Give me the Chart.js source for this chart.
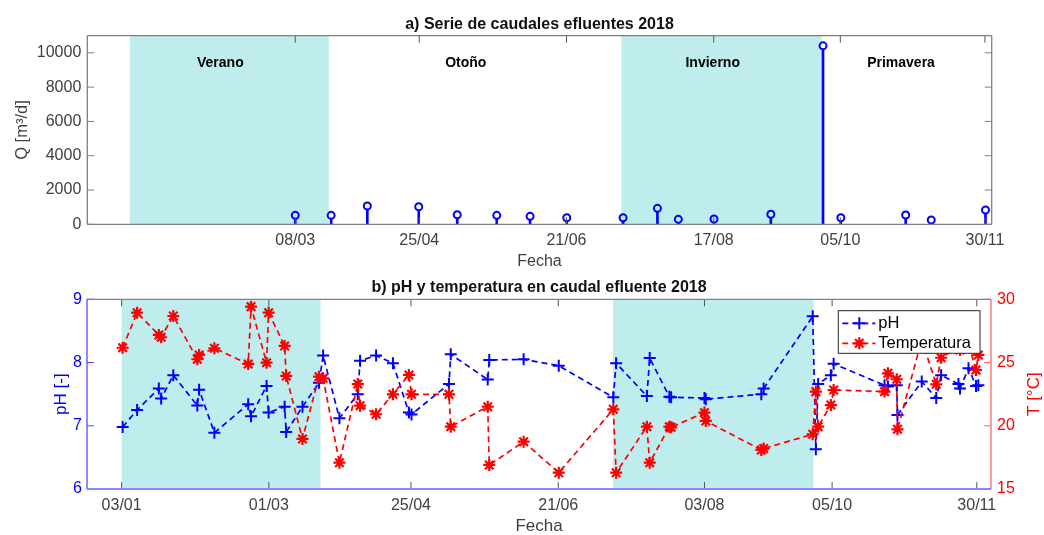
<!DOCTYPE html>
<html>
<head>
<meta charset="utf-8">
<script src="https://cdn.jsdelivr.net/npm/chart.js@4.4.0/dist/chart.umd.min.js"></script>
<style>
  body { margin: 0; background: #fff; }
  #wrap { position: relative; width: 1044px; height: 535px; }
  canvas { position: absolute; left: 0; }
  #caudal { top: 0; }
  #phTemp { top: 270px; }
</style>
</head>
<body>
<div id="wrap">
  <canvas id="caudal" width="1044" height="270"></canvas>
  <canvas id="phTemp" width="1044" height="265"></canvas>
</div>
<script>
// x values are day of year 2018

// a) effluent flow (stem plot)
var stemDays = [67.0, 80.9, 94.9, 114.8, 129.7, 145.0, 157.9, 172.1, 193.9, 207.2, 215.3, 229.1, 251.1, 271.3, 278.2, 303.3, 313.2, 334.2];
var caudal = [524, 524, 1066, 1026, 560, 524, 466, 385, 385, 932, 291, 309, 583, 10408, 385, 542, 250, 833];

// b) pH and temperature
var sampleDays = [3.4, 9.0, 17.4, 18.3, 23.0, 32.3, 33.0, 38.9, 52.0, 53.1,
  59.1, 59.9, 66.1, 66.7, 73.0, 79.4, 81.0, 87.3, 94.4, 95.3,
  101.5, 108.0, 114.2, 115.2, 129.7, 130.4, 144.7, 145.3, 158.6, 172.2,
  193.3, 194.4, 206.3, 207.4, 215.0, 215.7, 228.6, 229.1, 250.6, 251.5,
  270.5, 271.7, 272.6, 277.5, 278.6, 298.3, 299.6, 303.0, 303.3, 312.7,
  318.3, 320.2, 326.9, 327.5, 330.8, 333.7, 334.6];
var phValues = [6.98, 7.25, 7.59, 7.43, 7.80, 7.32, 7.57, 6.89, 7.34, 7.15,
  7.63, 7.21, 7.30, 6.90, 7.30, 7.68, 8.11, 7.12, 7.50, 8.03,
  8.11, 7.99, 7.21, 7.18, 7.66, 8.13, 7.73, 8.04, 8.05, 7.95,
  7.45, 7.99, 7.47, 8.07, 7.46, 7.45, 7.44, 7.42, 7.50, 7.59,
  8.73, 6.63, 7.66, 7.80, 7.98, 7.64, 7.62, 7.64, 7.17, 7.70,
  7.44, 7.80, 7.66, 7.59, 7.91, 7.63, 7.64];
var tempValues = [26.17, 28.94, 27.18, 27.0, 28.68, 25.26, 25.6, 26.13, 24.89, 29.42,
  24.99, 28.94, 26.31, 23.94, 18.96, 23.88, 23.75, 17.08, 23.30, 21.59,
  20.91, 22.49, 24.02, 22.49, 22.49, 19.93, 21.51, 16.90, 18.74, 16.29,
  21.30, 16.29, 19.93, 17.08, 19.93, 19.88, 21.04, 20.38, 18.09, 18.2,
  19.33, 22.70, 19.93, 21.64, 22.83, 22.70, 24.15, 23.68, 19.72, 26.8,
  23.28, 25.38, 26.2, 26.0, 26.5, 24.41, 25.60];

// seasons
var seasonNames = ['Verano', 'Otoño', 'Invierno', 'Primavera'];
var seasonLabelDays = [38, 133, 228.6, 301.5];
var shadedSeasons = [[3, 80], [193.2, 270.8]];

// ticks
var topTickDays = [67, 115, 172, 229, 278, 334];
var topTickLabels = ['08/03', '25/04', '21/06', '17/08', '05/10', '30/11'];
var bottomTickDays = [3, 60, 115, 172, 228.6, 278, 334];
var bottomTickLabels = ['03/01', '01/03', '25/04', '21/06', '03/08', '05/10', '30/11'];
var qTicks = [0, 2000, 4000, 6000, 8000, 10000];
var phTicks = [6, 7, 8, 9];
var tTicks = [15, 20, 25, 30];

var FONT = "'Liberation Sans', Arial, sans-serif";
var SHADE = 'rgb(191, 237, 237)';
var BLUE = 'rgb(0, 0, 255)';
var RED = 'rgb(255, 0, 0)';
var GREY = '#404040';

function inShade(d) {
  return shadedSeasons.some(function (s) { return d >= s[0] && d <= s[1]; });
}

function seg(ctx, x1, y1, x2, y2) {
  ctx.beginPath();
  ctx.moveTo(x1, y1);
  ctx.lineTo(x2, y2);
  ctx.stroke();
}

function setTicks(list) {
  return function (scale) {
    scale.ticks = list.map(function (v) { return { value: v }; });
  };
}

//Shaded seasons (+ names on the top plot)
var seasonPlugin = {
  id: 'seasons',
  beforeDatasetsDraw: function (chart, args, opts) {
    var ctx = chart.ctx, a = chart.chartArea, xs = chart.scales.x;
    ctx.save();
    ctx.fillStyle = SHADE;
    shadedSeasons.forEach(function (s) {
      var x0 = xs.getPixelForValue(s[0]), x1 = xs.getPixelForValue(s[1]);
      ctx.fillRect(x0, a.top, x1 - x0, a.bottom - a.top);
    });
    if (opts.labels) {
      ctx.fillStyle = '#000';
      ctx.font = 'bold 14px ' + FONT;
      ctx.textAlign = 'center';
      ctx.textBaseline = 'middle';
      seasonNames.forEach(function (n, i) {
        ctx.fillText(n, xs.getPixelForValue(seasonLabelDays[i]), a.top + 27.6);
      });
    }
    ctx.restore();
  }
};

//Axes box with inward ticks, matlab style
var boxPlugin = {
  id: 'box',
  afterDatasetsDraw: function (chart, args, o) {
    var ctx = chart.ctx, a = chart.chartArea, L = 7;
    var xs = chart.scales.x, yl = chart.scales.y, yr = chart.scales.y2;
    ctx.save();
    ctx.lineWidth = 1;
    ctx.strokeStyle = o.xColor;
    xs.ticks.forEach(function (t) {
      var px = xs.getPixelForValue(t.value);
      seg(ctx, px, a.bottom, px, a.bottom - L);
      seg(ctx, px, a.top, px, a.top + L);
    });
    yl.ticks.forEach(function (t) {
      var py = yl.getPixelForValue(t.value);
      ctx.strokeStyle = o.leftColor;
      seg(ctx, a.left, py, a.left + L, py);
      if (!yr) {
        ctx.strokeStyle = o.rightColor;
        seg(ctx, a.right, py, a.right - L, py);
      }
    });
    if (yr) {
      ctx.strokeStyle = o.rightColor;
      yr.ticks.forEach(function (t) {
        var py = yr.getPixelForValue(t.value);
        seg(ctx, a.right, py, a.right - L, py);
      });
    }
    ctx.lineWidth = o.width;
    ctx.strokeStyle = o.topColor; seg(ctx, a.left, a.top, a.right, a.top);
    ctx.strokeStyle = o.rightColor; seg(ctx, a.right, a.top, a.right, a.bottom);
    ctx.strokeStyle = o.leftColor; seg(ctx, a.left, a.top, a.left, a.bottom);
    ctx.lineWidth = o.bottomWidth;
    ctx.strokeStyle = o.bottomColor; seg(ctx, a.left, a.bottom, a.right, a.bottom);
    ctx.restore();
  }
};

function marker(ctx, ds, x, y) {
  var opts = { pointStyle: ds.pointStyle, radius: ds.pointRadius, borderWidth: ds.pointBorderWidth, rotation: 0 };
  if (Chart.helpers && Chart.helpers.drawPoint) {
    Chart.helpers.drawPoint(ctx, opts, x, y);
    return;
  }
  var r = ds.pointRadius;
  seg(ctx, x - r, y, x + r, y);
  seg(ctx, x, y - r, x, y + r);
  if (ds.pointStyle === 'star') {
    var d = r * Math.SQRT1_2;
    seg(ctx, x - d, y - d, x + d, y + d);
    seg(ctx, x - d, y + d, x + d, y - d);
  }
}

//Legend in a box inside the plot + right axis label
var boxLegendPlugin = {
  id: 'boxLegend',
  afterDraw: function (chart) {
    var ctx = chart.ctx, a = chart.chartArea;
    var w = 141.7, h = 42.6, x0 = a.right - 11 - w, y0 = a.top + 11.4;
    ctx.save();
    ctx.fillStyle = '#fff';
    ctx.fillRect(x0, y0, w, h);
    ctx.strokeStyle = '#262626';
    ctx.lineWidth = 1;
    ctx.strokeRect(x0, y0, w, h);
    chart.data.datasets.forEach(function (ds, i) {
      var cy = y0 + 12.6 + i * 20;
      ctx.strokeStyle = ds.borderColor;
      ctx.fillStyle = ds.borderColor;
      ctx.lineWidth = ds.borderWidth;
      ctx.setLineDash(ds.borderDash);
      seg(ctx, x0 + 4, cy, x0 + 37, cy);
      ctx.setLineDash([]);
      ctx.lineWidth = ds.pointBorderWidth;
      marker(ctx, ds, x0 + 21, cy);
      ctx.fillStyle = '#000';
      ctx.font = '16.5px ' + FONT;
      ctx.textAlign = 'left';
      ctx.textBaseline = 'middle';
      ctx.fillText(ds.label, x0 + 40, cy);
    });
    // T axis label reads bottom to top like the left one
    ctx.translate(1034, (a.top + a.bottom) / 2);
    ctx.rotate(-Math.PI / 2);
    ctx.fillStyle = RED;
    ctx.font = '17px ' + FONT;
    ctx.textAlign = 'center';
    ctx.textBaseline = 'middle';
    ctx.fillText('T [°C]', 0, 0);
    ctx.restore();
  }
};

var qPoints = stemDays.map(function (d, i) { return { x: d, y: caudal[i] }; });
var phPoints = sampleDays.map(function (d, i) { return { x: d, y: phValues[i] }; });
var tempPoints = sampleDays.map(function (d, i) { return { x: d, y: tempValues[i] }; });

// a) Serie de caudales
new Chart(document.getElementById('caudal'), {
  type: 'scatter',
  data: {
    datasets: [
      {
        type: 'scatter',
        label: 'Q',
        data: qPoints,
        order: 1,
        pointStyle: 'circle',
        pointRadius: 3.5,
        pointBorderWidth: 2,
        pointBorderColor: BLUE,
        pointBackgroundColor: function (c) { return c.raw && inShade(c.raw.x) ? SHADE : '#fff'; }
      },
      {
        type: 'bar',
        label: 'Q stem',
        data: qPoints,
        order: 2,
        backgroundColor: BLUE,
        barThickness: 2,
        grouped: false
      }
    ]
  },
  options: {
    responsive: false,
    animation: false,
    events: [],
    layout: { padding: { left: 0, right: 52.3, top: 0, bottom: 0 } },
    plugins: {
      legend: { display: false },
      tooltip: { enabled: false },
      title: {
        display: true,
        text: 'a) Serie de caudales efluentes 2018',
        fullSize: false,
        color: '#111',
        font: { family: FONT, size: 16, weight: 'bold', lineHeight: 1.2 },
        padding: { top: 15.1, bottom: 1.4 }
      },
      seasons: { labels: true },
      box: { xColor: '#555', leftColor: '#808080', rightColor: '#808080', topColor: '#808080', bottomColor: '#808080', width: 1.3, bottomWidth: 1.3 }
    },
    scales: {
      x: {
        type: 'linear',
        min: -13.5,
        max: 336.6,
        offset: false,
        grid: { display: false, drawTicks: false },
        border: { display: false },
        afterBuildTicks: setTicks(topTickDays),
        afterFit: function (s) { s.height = 45.7; },
        ticks: {
          autoSkip: false,
          maxRotation: 0,
          padding: 7,
          color: GREY,
          font: { family: FONT, size: 16 },
          callback: function (v, i) { return topTickLabels[i]; }
        },
        title: { display: true, text: 'Fecha', color: GREY, font: { family: FONT, size: 16, lineHeight: 1 }, padding: 0 }
      },
      y: {
        type: 'linear',
        min: 0,
        max: 11000,
        grid: { display: false, drawTicks: false },
        border: { display: false },
        afterBuildTicks: setTicks(qTicks),
        afterFit: function (s) { s.width = 87.3; },
        ticks: {
          padding: 6,
          color: GREY,
          font: { family: FONT, size: 16 },
          callback: function (v) { return String(v); }
        },
        title: { display: true, text: 'Q [m³/d]', color: GREY, font: { family: FONT, size: 16.5, lineHeight: 1 }, padding: { top: 14, bottom: 0 } }
      }
    }
  },
  plugins: [seasonPlugin, boxPlugin]
});

// b) pH y temperatura
new Chart(document.getElementById('phTemp'), {
  type: 'line',
  data: {
    datasets: [
      {
        label: 'pH',
        data: phPoints,
        yAxisID: 'y',
        order: 2,
        borderColor: BLUE,
        backgroundColor: BLUE,
        borderWidth: 1.7,
        borderDash: [6, 4],
        pointStyle: 'cross',
        pointRadius: 6,
        pointBorderWidth: 2,
        tension: 0,
        fill: false
      },
      {
        label: 'Temperatura',
        data: tempPoints,
        yAxisID: 'y2',
        order: 1,
        borderColor: RED,
        backgroundColor: RED,
        borderWidth: 1.7,
        borderDash: [6, 4],
        pointStyle: 'star',
        pointRadius: 6,
        pointBorderWidth: 2.2,
        tension: 0,
        fill: false
      }
    ]
  },
  options: {
    responsive: false,
    animation: false,
    events: [],
    layout: { padding: 0 },
    plugins: {
      legend: { display: false },
      tooltip: { enabled: false },
      title: {
        display: true,
        text: 'b) pH y temperatura en caudal efluente 2018',
        fullSize: false,
        color: '#111',
        font: { family: FONT, size: 16, weight: 'bold', lineHeight: 1.2 },
        padding: { top: 7.9, bottom: 2.2 }
      },
      seasons: { labels: false },
      box: { xColor: '#555', leftColor: '#4d4dff', rightColor: '#ff6666', topColor: '#808080', bottomColor: '#8585ff', width: 1.3, bottomWidth: 2 }
    },
    scales: {
      x: {
        type: 'linear',
        min: -10.4,
        max: 339.5,
        offset: false,
        grid: { display: false, drawTicks: false },
        border: { display: false },
        afterBuildTicks: setTicks(bottomTickDays),
        afterFit: function (s) { s.height = 46; },
        ticks: {
          autoSkip: false,
          maxRotation: 0,
          padding: 7,
          color: GREY,
          font: { family: FONT, size: 16 },
          callback: function (v, i) { return bottomTickLabels[i]; }
        },
        title: { display: true, text: 'Fecha', color: GREY, font: { family: FONT, size: 17, lineHeight: 1 }, padding: 0 }
      },
      y: {
        type: 'linear',
        position: 'left',
        min: 6,
        max: 9,
        grid: { display: false, drawTicks: false },
        border: { display: false },
        afterBuildTicks: setTicks(phTicks),
        afterFit: function (s) { s.width = 87; },
        ticks: { padding: 5, color: BLUE, font: { family: FONT, size: 16 } },
        title: { display: true, text: 'pH [-]', color: BLUE, font: { family: FONT, size: 17, lineHeight: 1 }, padding: { top: 52.5, bottom: 0 } }
      },
      y2: {
        type: 'linear',
        position: 'right',
        min: 15,
        max: 30,
        grid: { display: false, drawTicks: false },
        border: { display: false },
        afterBuildTicks: setTicks(tTicks),
        afterFit: function (s) { s.width = 53; },
        ticks: { padding: 6, color: RED, font: { family: FONT, size: 16 } }
      }
    }
  },
  plugins: [seasonPlugin, boxPlugin, boxLegendPlugin]
});
</script>
</body>
</html>
